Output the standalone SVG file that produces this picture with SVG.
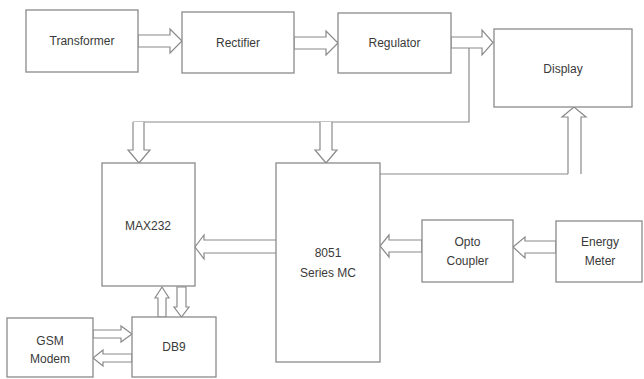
<svg xmlns="http://www.w3.org/2000/svg" width="644" height="379" viewBox="0 0 644 379">
<style>
.box{fill:#fff;stroke:#8a8a8a;stroke-width:1.3}
.ar{fill:#fff;stroke:#8a8a8a;stroke-width:1.2;stroke-linejoin:miter}
.ln{fill:none;stroke:#8a8a8a;stroke-width:1.2}
text{font-family:"Liberation Sans",Arial,sans-serif;font-size:12px;fill:#3a3a3a;text-anchor:middle}
</style>
<rect width="644" height="379" fill="#fff"/>
<g id="connectors">
<path class="ar" d="M138,35 H170 V29 L182,41 L170,53 V47 H138 Z"/>
<path class="ar" d="M294,37 H326 V31 L338,43 L326,55 V49 H294 Z"/>
<path class="ar" d="M451,37 H482 V30 L493,42.5 L482,55 V48 H451 Z"/>
<path class="ln" d="M469,48 V122 H133"/>
<path class="ar" d="M133,122 V150 H128 L139,163 L150,150 H144 V122"/>
<path class="ar" d="M320,122 V150 H315 L326,163 L337,150 H332 V122"/>
<path class="ln" d="M380,174 H568"/>
<path class="ar" d="M568,174 V117 H562 L574,107 L586,117 H581 V174"/>
<path class="ar" d="M277,240 H204 V235 L195,247 L204,259 V253 H277 Z"/>
<path class="ar" d="M422,240 H389 V235 L380,246 L389,257 V252 H422 Z"/>
<path class="ar" d="M556,241 H525 V237 L513,247 L525,258 V253 H556 Z"/>
<path class="ar" d="M158,317 V298 H155 L162,287 L169,298 H166 V317 Z"/>
<path class="ar" d="M177,287 V307 H174 L181.5,317 L189,307 H186 V287 Z"/>
<path class="ar" d="M93,330 H121 V326 L132,334 L121,342 V338 H93 Z"/>
<path class="ar" d="M132,354 H103 V350 L93,358 L103,366 V362 H132 Z"/>
</g>
<g id="transformer"><rect class="box" x="26" y="10" width="112" height="62"/><text x="82" y="45">Transformer</text></g>
<g id="rectifier"><rect class="box" x="182" y="12" width="112" height="61"/><text x="238" y="47">Rectifier</text></g>
<g id="regulator"><rect class="box" x="338" y="13" width="113" height="60"/><text x="394.5" y="47">Regulator</text></g>
<g id="display"><rect class="box" x="494" y="29" width="138" height="78"/><text x="563" y="73">Display</text></g>
<g id="max232"><rect class="box" x="102" y="163" width="93" height="123"/><text x="148" y="230">MAX232</text></g>
<g id="mc8051"><rect class="box" x="276" y="163" width="104" height="199"/><text x="328" y="257">8051</text><text x="328" y="277">Series MC</text></g>
<g id="opto"><rect class="box" x="422" y="220" width="91" height="62"/><text x="467.5" y="246">Opto</text><text x="467.5" y="265">Coupler</text></g>
<g id="energy"><rect class="box" x="556" y="221" width="86" height="61"/><text x="600" y="246">Energy</text><text x="600" y="265">Meter</text></g>
<g id="gsm"><rect class="box" x="7" y="318" width="86" height="59"/><text x="50" y="345">GSM</text><text x="50" y="363">Modem</text></g>
<g id="db9"><rect class="box" x="132" y="317" width="84" height="60"/><text x="174" y="351">DB9</text></g>
</svg>
